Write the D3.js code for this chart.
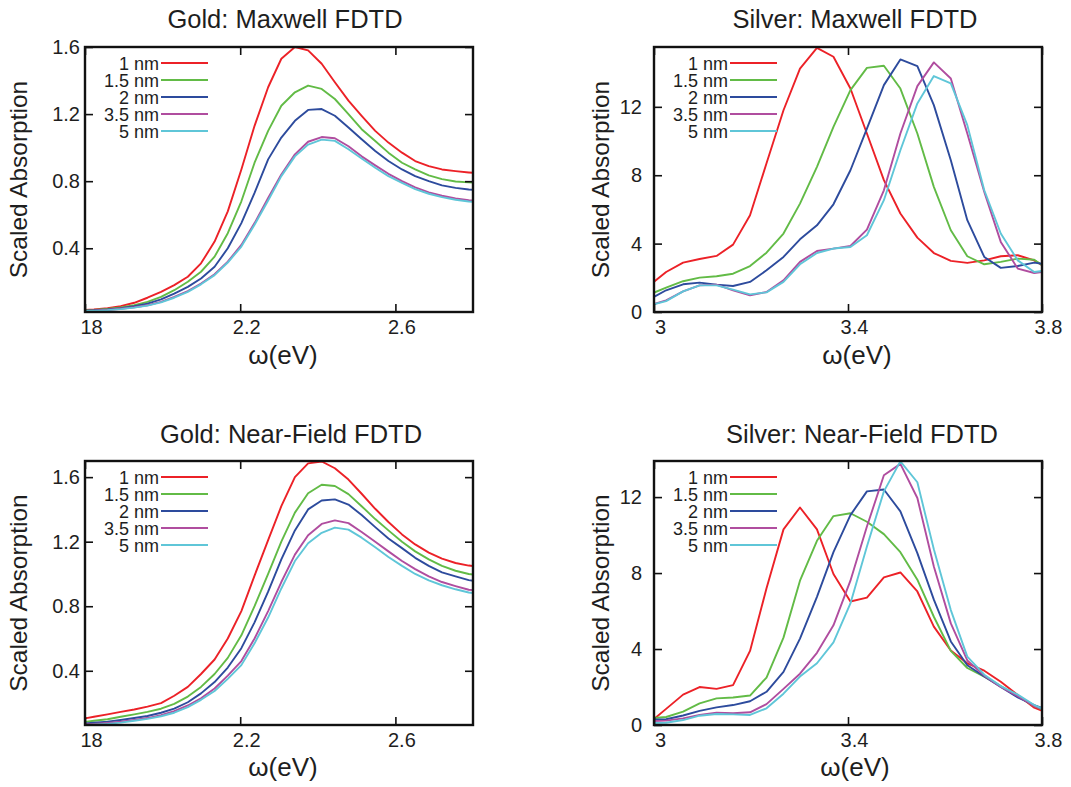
<!DOCTYPE html>
<html>
<head>
<meta charset="utf-8">
<script src="https://cdn.jsdelivr.net/npm/d3@7"></script>
<style>
  html, body { margin: 0; padding: 0; background: #ffffff; }
  svg { display: block; font-family: "Liberation Sans", Arial, Helvetica, sans-serif; }
</style>
</head>
<body>
<svg id="chart" width="1071" height="787"></svg>
<script>
// ---- series definitions ----
const sizeLabels = ["1 nm", "1.5 nm", "2 nm", "3.5 nm", "5 nm"];
const seriesColors = ["#ec2127", "#62bb46", "#2d4b9d", "#b04d9f", "#5fc6d8"];

// ---- photon energy grids (eV) ----
const goldEnergy = [1.789, 1.823, 1.858, 1.892, 1.927, 1.961, 1.996, 2.030, 2.065, 2.099,
  2.134, 2.168, 2.203, 2.237, 2.272, 2.306, 2.341, 2.375, 2.410, 2.444,
  2.479, 2.513, 2.548, 2.582, 2.617, 2.651, 2.686, 2.720, 2.755, 2.789, 2.824];
const silverEnergy = [2.990, 3.025, 3.060, 3.094, 3.129, 3.163, 3.198, 3.232, 3.267, 3.301,
  3.336, 3.370, 3.405, 3.439, 3.474, 3.508, 3.543, 3.577, 3.612, 3.646,
  3.681, 3.715, 3.750, 3.784, 3.819];

// ---- scaled absorption: gold, Maxwell FDTD (one row per particle size) ----
const goldMaxwell = [
  [0.030, 0.035, 0.043, 0.055, 0.075, 0.105, 0.140, 0.180, 0.230, 0.310, 0.440, 0.620, 0.870, 1.130, 1.360, 1.530, 1.600, 1.580, 1.500, 1.390, 1.280, 1.190, 1.100, 1.030, 0.970, 0.920, 0.890, 0.870, 0.860, 0.852, 0.845],
  [0.028, 0.032, 0.038, 0.047, 0.060, 0.080, 0.110, 0.150, 0.200, 0.260, 0.350, 0.490, 0.680, 0.910, 1.100, 1.250, 1.330, 1.370, 1.350, 1.290, 1.200, 1.110, 1.040, 0.970, 0.910, 0.870, 0.835, 0.812, 0.798, 0.793, 0.790],
  [0.027, 0.030, 0.035, 0.043, 0.055, 0.070, 0.095, 0.130, 0.170, 0.220, 0.290, 0.400, 0.550, 0.730, 0.930, 1.060, 1.160, 1.225, 1.230, 1.190, 1.120, 1.050, 0.980, 0.920, 0.870, 0.830, 0.800, 0.775, 0.760, 0.750, 0.745],
  [0.025, 0.028, 0.032, 0.039, 0.048, 0.060, 0.080, 0.110, 0.145, 0.190, 0.245, 0.320, 0.420, 0.550, 0.700, 0.840, 0.960, 1.035, 1.063, 1.056, 1.008, 0.948, 0.894, 0.844, 0.800, 0.763, 0.733, 0.713, 0.697, 0.687, 0.682],
  [0.025, 0.027, 0.031, 0.037, 0.046, 0.058, 0.077, 0.105, 0.140, 0.185, 0.240, 0.315, 0.410, 0.540, 0.685, 0.830, 0.948, 1.018, 1.048, 1.040, 0.990, 0.935, 0.880, 0.830, 0.790, 0.753, 0.725, 0.705, 0.689, 0.679, 0.674]
];

// ---- scaled absorption: gold, near-field FDTD ----
const goldNearField = [
  [0.100, 0.115, 0.130, 0.145, 0.160, 0.178, 0.200, 0.245, 0.300, 0.380, 0.470, 0.600, 0.770, 0.990, 1.210, 1.420, 1.600, 1.685, 1.697, 1.655, 1.585, 1.497, 1.404, 1.322, 1.245, 1.183, 1.132, 1.095, 1.068, 1.052, 1.045],
  [0.080, 0.090, 0.100, 0.115, 0.130, 0.145, 0.165, 0.195, 0.240, 0.300, 0.380, 0.480, 0.620, 0.800, 1.000, 1.200, 1.380, 1.500, 1.553, 1.545, 1.495, 1.420, 1.340, 1.270, 1.200, 1.140, 1.090, 1.050, 1.020, 1.000, 0.990],
  [0.072, 0.078, 0.085, 0.095, 0.107, 0.120, 0.140, 0.165, 0.205, 0.260, 0.330, 0.420, 0.540, 0.700, 0.890, 1.090, 1.270, 1.400, 1.455, 1.462, 1.430, 1.365, 1.290, 1.220, 1.160, 1.100, 1.050, 1.010, 0.985, 0.962, 0.950],
  [0.066, 0.070, 0.076, 0.084, 0.095, 0.107, 0.125, 0.150, 0.185, 0.230, 0.290, 0.370, 0.460, 0.600, 0.770, 0.950, 1.120, 1.240, 1.310, 1.332, 1.315, 1.260, 1.200, 1.140, 1.080, 1.030, 0.985, 0.950, 0.925, 0.902, 0.895],
  [0.062, 0.066, 0.071, 0.079, 0.090, 0.102, 0.118, 0.140, 0.175, 0.220, 0.275, 0.350, 0.435, 0.570, 0.730, 0.910, 1.080, 1.190, 1.255, 1.287, 1.275, 1.225, 1.165, 1.105, 1.050, 1.000, 0.960, 0.930, 0.905, 0.885, 0.875]
];

// ---- scaled absorption: silver, Maxwell FDTD ----
const silverMaxwell = [
  [1.54, 2.34, 2.89, 3.10, 3.28, 3.94, 5.66, 8.70, 11.80, 14.24, 15.45, 14.93, 13.07, 10.44, 7.71, 5.76, 4.35, 3.45, 2.99, 2.87, 3.02, 3.26, 3.32, 3.02, 2.40],
  [1.02, 1.42, 1.80, 2.01, 2.09, 2.24, 2.69, 3.47, 4.59, 6.34, 8.49, 10.83, 12.98, 14.28, 14.40, 13.07, 10.44, 7.32, 4.78, 3.26, 2.79, 2.93, 3.12, 3.06, 2.36],
  [0.73, 1.27, 1.62, 1.72, 1.60, 1.52, 1.76, 2.44, 3.22, 4.25, 5.07, 6.30, 8.29, 10.73, 13.27, 14.77, 14.38, 12.10, 8.88, 5.37, 3.22, 2.58, 2.69, 2.89, 2.75],
  [0.38, 0.68, 1.21, 1.56, 1.60, 1.27, 0.98, 1.17, 1.85, 2.93, 3.57, 3.71, 3.86, 4.82, 7.12, 10.44, 13.21, 14.60, 13.66, 10.44, 7.02, 4.10, 2.54, 2.28, 2.40],
  [0.38, 0.64, 1.21, 1.56, 1.56, 1.31, 1.03, 1.15, 1.76, 2.79, 3.45, 3.71, 3.80, 4.49, 6.54, 9.46, 12.20, 13.80, 13.37, 10.93, 7.12, 4.59, 3.02, 2.34, 2.47]
];

// ---- scaled absorption: silver, near-field FDTD ----
const silverNearField = [
  [0.10, 0.85, 1.60, 2.00, 1.90, 2.10, 3.90, 7.20, 10.30, 11.45, 10.30, 7.95, 6.50, 6.71, 7.77, 8.03, 7.03, 5.18, 3.92, 3.25, 2.86, 2.28, 1.58, 0.91, 0.55],
  [0.35, 0.42, 0.70, 1.14, 1.40, 1.45, 1.55, 2.50, 4.60, 7.60, 9.70, 11.00, 11.15, 10.70, 10.05, 9.10, 7.65, 5.70, 3.90, 3.00, 2.55, 2.05, 1.50, 1.00, 0.60],
  [0.28, 0.30, 0.50, 0.74, 0.93, 1.05, 1.25, 1.75, 2.80, 4.55, 6.75, 9.10, 11.05, 12.30, 12.40, 11.25, 9.05, 6.60, 4.40, 3.15, 2.55, 2.00, 1.45, 1.05, 0.70],
  [0.20, 0.23, 0.35, 0.53, 0.65, 0.62, 0.67, 1.10, 1.90, 2.70, 3.80, 5.25, 7.60, 10.45, 13.15, 13.75, 11.95, 8.35, 5.35, 3.40, 2.60, 2.00, 1.52, 1.00, 0.65],
  [0.10, 0.12, 0.26, 0.49, 0.58, 0.56, 0.53, 0.88, 1.65, 2.55, 3.25, 4.35, 6.40, 9.40, 12.30, 13.88, 12.78, 9.25, 6.05, 3.60, 2.65, 2.05, 1.60, 1.05, 0.65]
];

// ---- axis ticks ----
const goldXTicks = [1.8, 2.2, 2.6];
const goldXTickLabels = ["18", "2.2", "2.6"];
const goldYTicks = [0.4, 0.8, 1.2, 1.6];
const goldYTickLabels = ["0.4", "0.8", "1.2", "1.6"];
const silverXTicks = [3.0, 3.4, 3.8];
const silverXTickLabels = ["3", "3.4", "3.8"];
const silverYTicks = [0, 4, 8, 12];
const silverYTickLabels = ["0", "4", "8", "12"];

const titles = ["Gold: Maxwell FDTD", "Silver: Maxwell FDTD", "Gold: Near-Field FDTD", "Silver: Near-Field FDTD"];
const xAxisTitle = "\u03c9(eV)";
const yAxisTitle = "Scaled Absorption";

// ---- panel layout ----
const panels = [
  { title: titles[0], energy: goldEnergy, values: goldMaxwell,
    xDomain: [1.8, 2.8], yDomain: [0.02, 1.6],
    xTicks: goldXTicks, xLabels: goldXTickLabels, yTicks: goldYTicks, yLabels: goldYTickLabels,
    box: { left: 85, right: 473, top: 47, bottom: 312 },
    titleX: 285, titleY: 28, yTitleX: 27, xTitleX: 283, xTitleY: 364, yPad: 5 },
  { title: titles[1], energy: silverEnergy, values: silverMaxwell,
    xDomain: [3.0, 3.8], yDomain: [0, 15.5],
    xTicks: silverXTicks, xLabels: silverXTickLabels, yTicks: silverYTicks, yLabels: silverYTickLabels,
    box: { left: 654, right: 1042, top: 47, bottom: 312 },
    titleX: 855, titleY: 28, yTitleX: 609, xTitleX: 857, xTitleY: 364, yPad: 12 },
  { title: titles[2], energy: goldEnergy, values: goldNearField,
    xDomain: [1.8, 2.8], yDomain: [0.064, 1.7],
    xTicks: goldXTicks, xLabels: goldXTickLabels, yTicks: goldYTicks, yLabels: goldYTickLabels,
    box: { left: 85, right: 473, top: 461, bottom: 725 },
    titleX: 291, titleY: 443, yTitleX: 27, xTitleX: 283, xTitleY: 776, yPad: 5 },
  { title: titles[3], energy: silverEnergy, values: silverNearField,
    xDomain: [3.0, 3.8], yDomain: [0, 13.9],
    xTicks: silverXTicks, xLabels: silverXTickLabels, yTicks: silverYTicks, yLabels: silverYTickLabels,
    box: { left: 654, right: 1042, top: 461, bottom: 725 },
    titleX: 862, titleY: 443, yTitleX: 609, xTitleX: 855, xTitleY: 776, yPad: 12 }
];

const svg = d3.select("#chart");
const textColor = "#1e1e1e";
const tickLen = 8;

panels.forEach((p, pi) => {
  const b = p.box;
  const x = d3.scaleLinear().domain(p.xDomain).range([b.left, b.right]);
  const y = d3.scaleLinear().domain(p.yDomain).range([b.bottom, b.top]);
  const g = svg.append("g").attr("class", "panel");

  const clipId = "clip-" + pi;
  svg.append("clipPath").attr("id", clipId)
    .append("rect")
    .attr("x", b.left).attr("y", b.top)
    .attr("width", b.right - b.left).attr("height", b.bottom - b.top);

  // curves
  const line = d3.line()
    .x((d, i) => x(p.energy[i]))
    .y(d => y(d));
  g.append("g").attr("clip-path", `url(#${clipId})`)
    .selectAll("path")
    .data(p.values)
    .join("path")
    .attr("d", d => line(d))
    .attr("fill", "none")
    .attr("stroke", (d, i) => seriesColors[i])
    .attr("stroke-width", 1.9)
    .attr("stroke-linejoin", "round");

  // axes: inward ticks on all four sides
  const xFmt = v => p.xLabels[p.xTicks.indexOf(v)];
  const yFmt = v => p.yLabels[p.yTicks.indexOf(v)];

  const bottomAxis = g.append("g")
    .attr("transform", `translate(0,${b.bottom})`)
    .call(d3.axisBottom(x).tickValues(p.xTicks).tickFormat(xFmt).tickSize(-tickLen).tickPadding(8));
  bottomAxis.selectAll("text").attr("dx", 6);

  g.append("g")
    .attr("transform", `translate(0,${b.top})`)
    .call(d3.axisTop(x).tickValues(p.xTicks).tickFormat("").tickSize(-tickLen));

  g.append("g")
    .attr("transform", `translate(${b.left},0)`)
    .call(d3.axisLeft(y).tickValues(p.yTicks).tickFormat(yFmt).tickSize(-tickLen).tickPadding(p.yPad));

  g.append("g")
    .attr("transform", `translate(${b.right},0)`)
    .call(d3.axisRight(y).tickValues(p.yTicks).tickFormat("").tickSize(-tickLen));

  g.selectAll(".domain").remove();
  g.selectAll(".tick line").attr("stroke", "#111").attr("stroke-width", 1.6);
  g.selectAll(".tick text")
    .attr("fill", textColor)
    .style("font-size", "20px")
    .style("font-family", "'Liberation Sans', Arial, sans-serif");

  // frame
  g.append("rect")
    .attr("x", b.left).attr("y", b.top)
    .attr("width", b.right - b.left).attr("height", b.bottom - b.top)
    .attr("fill", "none").attr("stroke", "#111").attr("stroke-width", 2.4);

  // legend
  const leg = g.append("g").attr("class", "legend");
  sizeLabels.forEach((lab, i) => {
    const ly = b.top + 16 + 17 * i;
    leg.append("text")
      .attr("x", b.left + 74).attr("y", ly + 6.5)
      .attr("text-anchor", "end")
      .attr("fill", textColor)
      .style("font-size", "18px")
      .text(lab);
    leg.append("line")
      .attr("x1", b.left + 76).attr("x2", b.left + 123)
      .attr("y1", ly).attr("y2", ly)
      .attr("stroke", seriesColors[i]).attr("stroke-width", 2);
  });

  // titles
  g.append("text")
    .attr("x", p.titleX).attr("y", p.titleY)
    .attr("text-anchor", "middle")
    .attr("fill", textColor)
    .style("font-size", "25.5px")
    .text(p.title);

  g.append("text")
    .attr("x", p.xTitleX).attr("y", p.xTitleY)
    .attr("text-anchor", "middle")
    .attr("fill", textColor)
    .style("font-size", "26px")
    .text(xAxisTitle);

  const cy = (b.top + b.bottom) / 2;
  g.append("text")
    .attr("transform", `translate(${p.yTitleX},${cy}) rotate(-90)`)
    .attr("text-anchor", "middle")
    .attr("fill", textColor)
    .style("font-size", "24.5px")
    .text(yAxisTitle);
});
</script>
</body>
</html>
